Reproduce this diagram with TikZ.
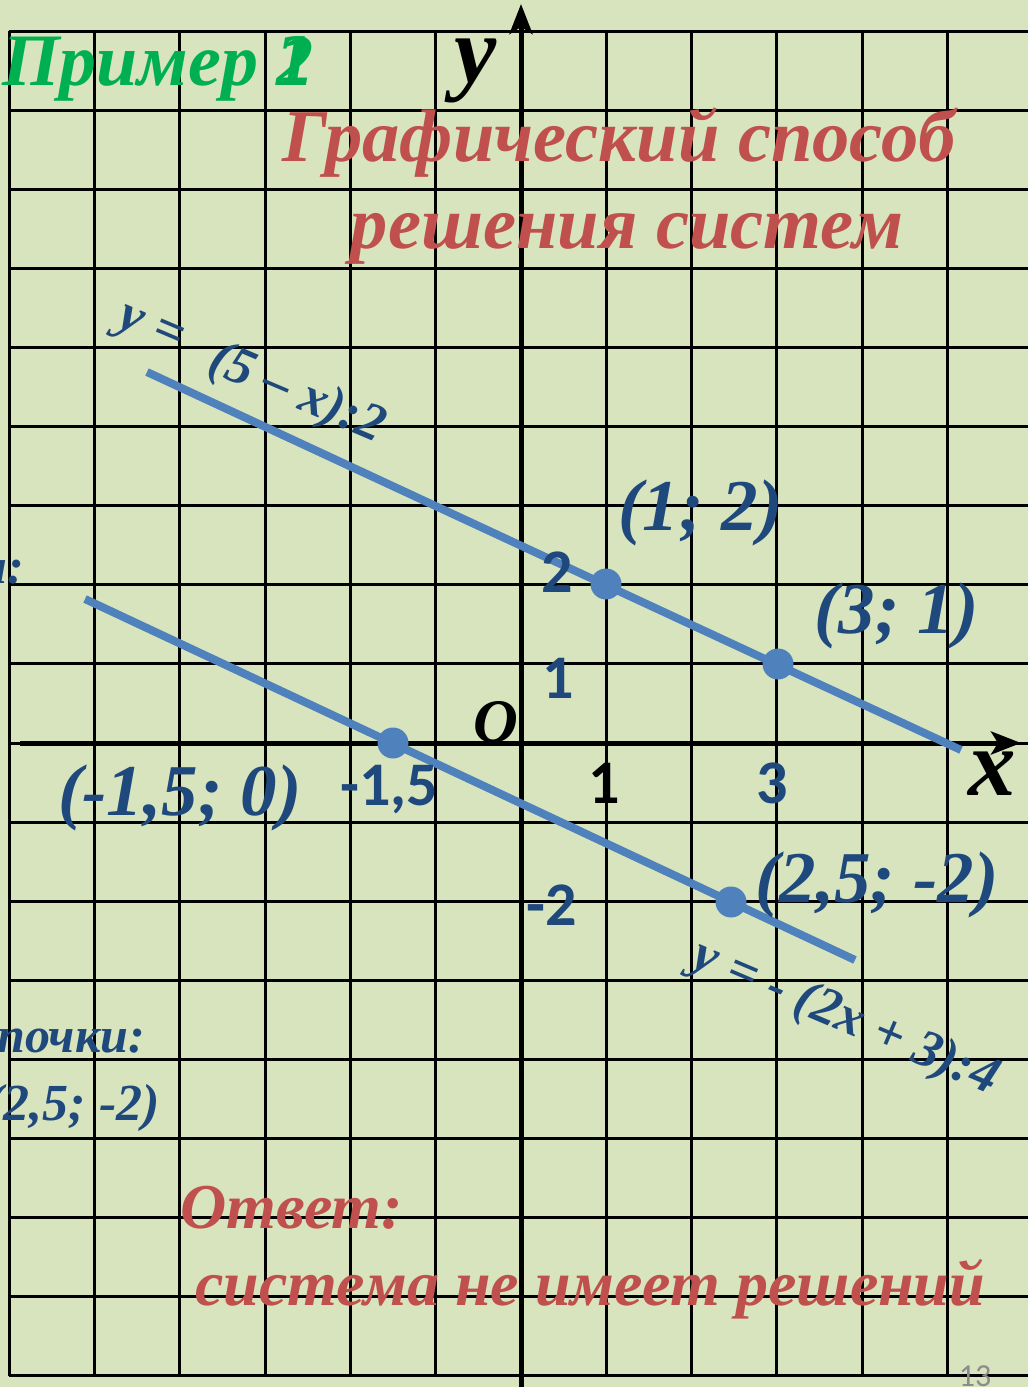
\documentclass[tikz,border=0pt]{standalone}
\usepackage{fontspec}
\setmainfont{Liberation Serif}
\newfontfamily\numfont{Carlito}
\usetikzlibrary{arrows.meta}
\definecolor{bg}{HTML}{D7E4BD}
\definecolor{navy}{HTML}{1F497D}
\definecolor{lineblue}{HTML}{4F81BD}
\definecolor{redt}{HTML}{C0504D}
\definecolor{greent}{HTML}{00B050}
\definecolor{pagegray}{HTML}{8C8C8C}
\tikzset{
  gridline/.style={line width=3pt, black},
  axisline/.style={line width=5pt, black, -{Stealth[length=30pt,width=23pt,inset=7pt]}},
  graphline/.style={line width=8pt, lineblue},
  dotnode/.style={circle, fill=lineblue, minimum size=31pt, inner sep=0pt},
  bi/.style={font=\bfseries\itshape\fontsize{#1}{#1}\selectfont, inner sep=0pt},
  ptlabel/.style={bi=73, text=navy, anchor=base west},
  numlabel/.style={font=\numfont\bfseries\fontsize{62}{62}\selectfont, text=navy, inner sep=0pt, anchor=base},
  eqlabel/.style={bi=53, text=navy, rotate=-23},
}
\begin{document}
\begin{tikzpicture}[x=1pt,y=-1pt]
\useasboundingbox (0,0) rectangle (1028,1387);
\fill[bg] (0,0) rectangle (1028,1387);
% grid
\foreach \i in {-6,...,5}
  \draw[gridline] ({521+85.3*\i},31) -- ({521+85.3*\i},1376);
\foreach \j in {-8,...,9}
  \draw[gridline] (9,{743-79.1*\j}) -- (1028,{743-79.1*\j});
% axes
\coordinate (xs) at (20,743);
\coordinate (xe) at (1021,743);
\coordinate (ys) at (521,1390);
\coordinate (ye) at (521,4);
\draw[axisline] (xs) -- (xe);
\draw[axisline] (ys) -- (ye);
% graph lines
\coordinate (l1s) at (147,372);
\coordinate (l1e) at (961,750);
\coordinate (l2s) at (85,599);
\coordinate (l2e) at (855,960);
\draw[graphline] (l1s) -- (l1e);
\draw[graphline] (l2s) -- (l2e);
% points
\node[dotnode] (p12) at (606,584) {};
\node[dotnode] (p31) at (778,664) {};
\node[dotnode] (pm15) at (393,743) {};
\node[dotnode] (p25) at (731,902) {};
% point labels
\node[ptlabel] (lp12) at (618,530) {(1; 2)};
\node[ptlabel] (lp31) at (814,633) {(3; 1)};
\node[ptlabel] (lpm15) at (58,815) {(-1,5; 0)};
\node[ptlabel] (lp25) at (755,902) {(2,5; -2)};
% axis numbers
\node[numlabel] (n2) at (557,592) {2};
\node[numlabel] (n1y) at (558,698) {1};
\node[numlabel, text=black] (n1x) at (604,803) {1};
\node[numlabel] (n3) at (772,803) {3};
\node[numlabel] (nm15) at (389,805) {-1,5};
\node[numlabel] (nm2) at (552,925) {-2};
% axis letters
\node[bi=95, anchor=base] (lx) at (992,795) {x};
\node[bi=95, anchor=base] (ly) at (476,82) {y};
\node[bi=62, anchor=base] (lo) at (496,742) {O};
% equations
\node[eqlabel] (e1a) at (149,333) {y =};
\node[eqlabel] (e1b) at (297,395) {(5 – x):2};
\node[eqlabel] (e2) at (845,1019) {y = - (2x + 3):4};
% titles
\node[bi=74, text=greent, anchor=base west] (ex) at (2,85) {Пример \rlap{1}2};
\node[bi=74.5, text=redt, anchor=base] (t1) at (619,161) {Графический способ};
\node[bi=74.5, text=redt, anchor=base] (t2) at (627,248) {решения систем};
% left cut texts
\node[bi=50, text=navy, anchor=base east] (c1) at (24,583) {и:};
\node[bi=50, text=navy, anchor=base east] (c2) at (145,1052) {почки:};
\node[bi=52, text=navy, anchor=base east] (c3) at (160,1120) {(2,5; -2)};
% answer
\node[bi=64, text=redt, anchor=base west] (a1) at (180,1228) {Ответ:};
\node[bi=64, text=redt, anchor=base west] (a2) at (195,1305) {система не имеет решений};
% page number
\node[font=\numfont\fontsize{32}{32}\selectfont, text=pagegray, inner sep=0pt, anchor=base] (pg) at (975,1386) {13};
\end{tikzpicture}
\end{document}
